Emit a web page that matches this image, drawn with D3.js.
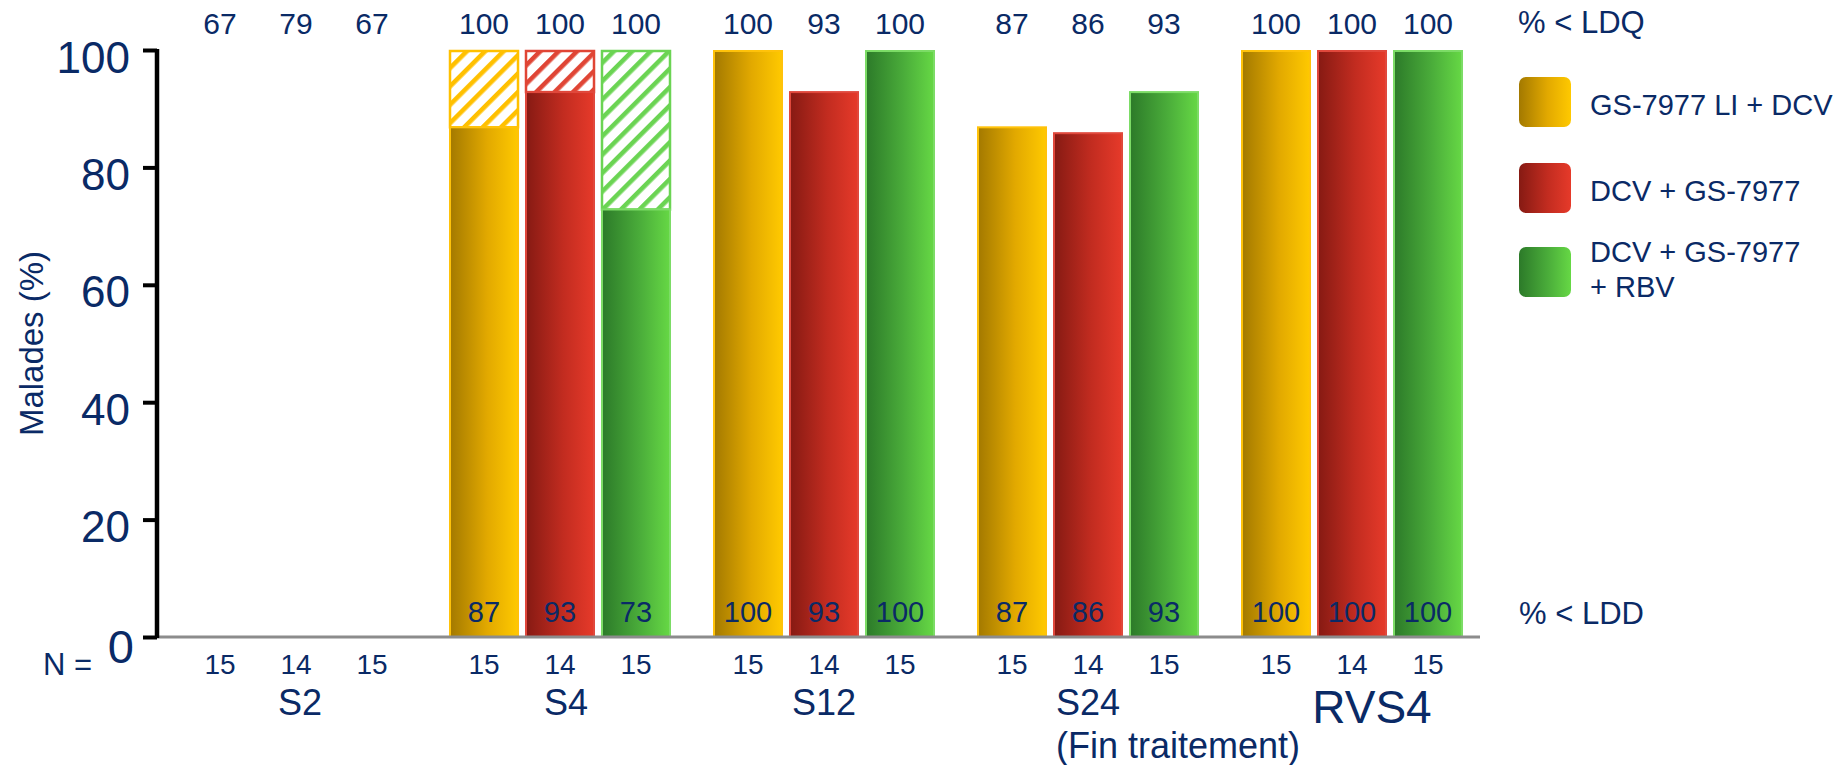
<!DOCTYPE html>
<html lang="fr">
<head>
<meta charset="utf-8">
<title>Malades (%) &lt; LDQ / &lt; LDD</title>
<script src="https://cdn.jsdelivr.net/npm/d3@7"></script>
<style>
  html, body { margin: 0; padding: 0; background: #ffffff; }
  svg { display: block; }
  text { font-family: "Liberation Sans", Arial, Helvetica, sans-serif; fill: #0a2a66; }
</style>
</head>
<body>
<svg id="chart" width="1846" height="765"></svg>
<script>
// ---- Data ----
const groups = ["S2", "S4", "S12", "S24", "RVS4"];
const series = ["GS-7977 LI + DCV", "DCV + GS-7977", "DCV + GS-7977 + RBV"];
// % of patients below the limit of quantification (top row)
const ldqValues = [
  [67, 79, 67],
  [100, 100, 100],
  [100, 93, 100],
  [87, 86, 93],
  [100, 100, 100]
];
// % of patients below the limit of detection (solid part of each bar)
const lddValues = [
  [null, null, null],
  [87, 93, 73],
  [100, 93, 100],
  [87, 86, 93],
  [100, 100, 100]
];
const nValues = [
  [15, 14, 15],
  [15, 14, 15],
  [15, 14, 15],
  [15, 14, 15],
  [15, 14, 15]
];
const yTicks = [0, 20, 40, 60, 80, 100];

// ---- Styles ----
const palette = [
  { dark: "#a37900", mid: "#e2a900", light: "#ffc900", edge: "#ffc20a", hatch: "#ffc000" },
  { dark: "#861a13", mid: "#c22c20", light: "#e63a2a", edge: "#e0483c", hatch: "#e04535" },
  { dark: "#2c7a29", mid: "#4aac3a", light: "#66d845", edge: "#7cdc66", hatch: "#6bd453" }
];
const groupLabelNudge = { S2: 4, S4: 6, S12: 0, S24: 0, RVS4: 20 };

const svg = d3.select("#chart");
const defs = svg.append("defs");

palette.forEach((c, i) => {
  const g = defs.append("linearGradient")
    .attr("id", "grad" + i)
    .attr("x1", 0).attr("y1", 0).attr("x2", 1).attr("y2", 0);
  g.append("stop").attr("offset", "0%").attr("stop-color", c.dark);
  g.append("stop").attr("offset", "55%").attr("stop-color", c.mid);
  g.append("stop").attr("offset", "100%").attr("stop-color", c.light);

  const p = defs.append("pattern")
    .attr("id", "hatch" + i)
    .attr("patternUnits", "userSpaceOnUse")
    .attr("width", 13).attr("height", 13)
    .attr("patternTransform", "rotate(45)");
  p.append("rect").attr("width", 13).attr("height", 13).attr("fill", "#ffffff");
  p.append("rect").attr("x", 0).attr("y", 0).attr("width", 4.6).attr("height", 13).attr("fill", c.hatch);
});

// ---- Scales ----
const y = d3.scaleLinear().domain([0, 100]).range([637, 50]);
const x0 = d3.scaleBand().domain(groups).range([164, 1484])
  .paddingInner(42 / 264).paddingOuter(21 / 264);
const x1 = d3.scaleBand().domain(series).range([0, x0.bandwidth()])
  .paddingInner(6 / 76).paddingOuter(0);

// ---- Bars ----
const cells = [];
groups.forEach((grp, gi) => {
  series.forEach((s, si) => {
    cells.push({ grp, gi, s, si,
      ldq: ldqValues[gi][si], ldd: lddValues[gi][si], n: nValues[gi][si] });
  });
});
const barX = d => x0(d.grp) + x1(d.s);
const barCx = d => barX(d) + x1.bandwidth() / 2;

const bars = svg.append("g").attr("class", "bars");
const drawn = cells.filter(d => d.ldd !== null);

// hatched part: between LDD and LDQ
bars.selectAll("rect.hatch")
  .data(drawn.filter(d => d.ldq > d.ldd))
  .join("rect")
  .attr("class", "hatch")
  .attr("x", d => barX(d) + 1)
  .attr("y", d => y(d.ldq) + 1)
  .attr("width", x1.bandwidth() - 2)
  .attr("height", d => y(d.ldd) - y(d.ldq))
  .attr("fill", d => `url(#hatch${d.si})`)
  .attr("stroke", d => palette[d.si].hatch)
  .attr("stroke-width", 2.5);

// solid part: 0 to LDD
bars.selectAll("rect.solid")
  .data(drawn)
  .join("rect")
  .attr("class", "solid")
  .attr("x", d => barX(d) + 1)
  .attr("y", d => y(d.ldd) + 1)
  .attr("width", x1.bandwidth() - 2)
  .attr("height", d => y(0) - y(d.ldd) - 1)
  .attr("fill", d => `url(#grad${d.si})`)
  .attr("stroke", d => palette[d.si].edge)
  .attr("stroke-width", 2);

// ---- Axes ----
// baseline
svg.append("line")
  .attr("x1", 157).attr("x2", 1480)
  .attr("y1", y(0)).attr("y2", y(0))
  .attr("stroke", "#8c8c8c").attr("stroke-width", 3);

const yAxis = svg.append("g")
  .attr("transform", "translate(157,0)")
  .call(d3.axisLeft(y).tickValues(yTicks).tickSize(14).tickPadding(13).tickFormat(d3.format("d")));
yAxis.select(".domain").attr("stroke", "#000").attr("stroke-width", 4.5)
  .attr("d", `M0,${y(100) - 1}V${y(0) + 1}`);
yAxis.selectAll(".tick line").attr("stroke", "#000").attr("stroke-width", 4);
yAxis.selectAll(".tick text")
  .style("font-family", '"Liberation Sans", Arial, sans-serif')
  .style("font-size", "44px")
  .attr("fill", "#0a2a66")
  .attr("dy", "0.50em");
yAxis.selectAll(".tick").filter(d => d === 0).select("text")
  .style("font-size", "47px")
  .attr("x", -23)
  .attr("dy", "0.55em");

svg.append("text")
  .attr("transform", `translate(43,${(y(0) + y(100)) / 2}) rotate(-90)`)
  .attr("text-anchor", "middle")
  .style("font-size", "33px")
  .text("Malades (%)");

// ---- Value labels ----
// % < LDQ above the plot
svg.append("g").selectAll("text")
  .data(cells)
  .join("text")
  .attr("x", barCx)
  .attr("y", 34)
  .attr("text-anchor", "middle")
  .style("font-size", "30px")
  .text(d => d.ldq);

// % < LDD inside the bars
svg.append("g").selectAll("text")
  .data(drawn)
  .join("text")
  .attr("x", barCx)
  .attr("y", 622)
  .attr("text-anchor", "middle")
  .style("font-size", "29px")
  .text(d => d.ldd);

// N per arm
svg.append("g").selectAll("text")
  .data(cells)
  .join("text")
  .attr("x", barCx)
  .attr("y", 674)
  .attr("text-anchor", "middle")
  .style("font-size", "28px")
  .text(d => d.n);

svg.append("text").attr("x", 43).attr("y", 675)
  .style("font-size", "31px").text("N =");

// group labels
svg.append("g").selectAll("text")
  .data(groups)
  .join("text")
  .attr("x", g => x0(g) + x0.bandwidth() / 2 + groupLabelNudge[g])
  .attr("y", g => g === "RVS4" ? 723 : 715)
  .attr("text-anchor", "middle")
  .style("font-size", g => g === "RVS4" ? "46px" : "36px")
  .text(g => g);

svg.append("text")
  .attr("x", x0("S24") + x0.bandwidth() / 2 - 32)
  .attr("y", 758)
  .style("font-size", "36px")
  .text("(Fin traitement)");

// row captions
svg.append("text").attr("x", 1518).attr("y", 33)
  .style("font-size", "31px").text("% < LDQ");
svg.append("text").attr("x", 1519).attr("y", 624)
  .style("font-size", "31px").text("% < LDD");

// ---- Legend ----
const legendRows = [
  { lines: ["GS-7977 LI + DCV"], top: 77 },
  { lines: ["DCV + GS-7977"], top: 163 },
  { lines: ["DCV + GS-7977", "+ RBV"], top: 247 }
];
const legend = svg.append("g").attr("class", "legend");
legendRows.forEach((row, i) => {
  legend.append("rect")
    .attr("x", 1519).attr("y", row.top)
    .attr("width", 52).attr("height", 50)
    .attr("rx", 7).attr("ry", 7)
    .attr("fill", `url(#grad${i})`);
  const t = legend.append("text")
    .attr("x", 1590)
    .attr("y", row.lines.length > 1 ? row.top + 15 : row.top + 38)
    .style("font-size", "29px");
  row.lines.forEach((ln, k) => {
    t.append("tspan").attr("x", 1590).attr("dy", k === 0 ? 0 : 35).text(ln);
  });
});
</script>
</body>
</html>
